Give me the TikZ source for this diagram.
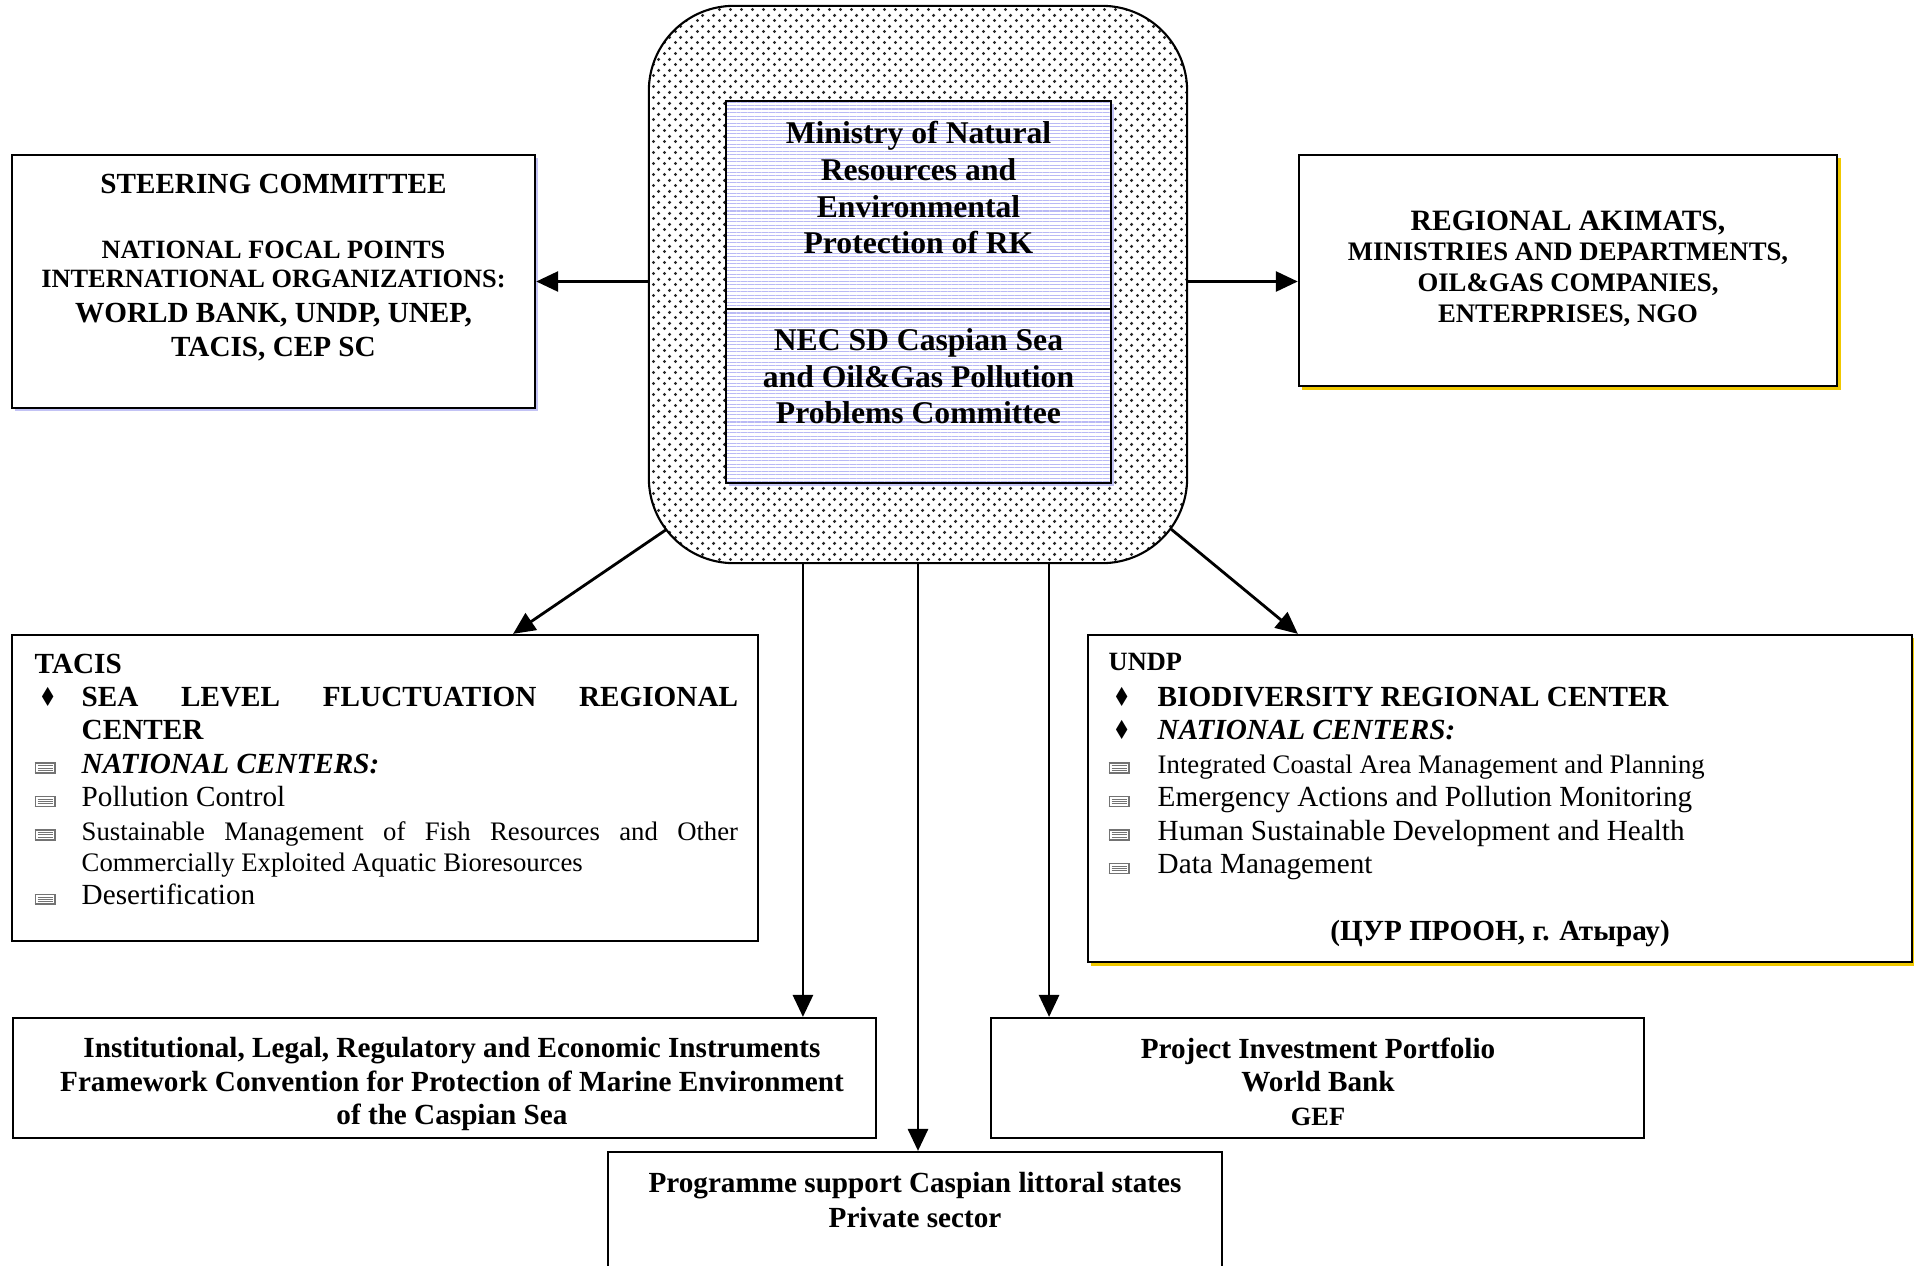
\documentclass[tikz,border=0pt]{standalone}
\usepackage{fontspec}
\setmainfont{Liberation Serif}
\newfontfamily\symf{DejaVu Sans}
\usepackage{graphicx}
\usetikzlibrary{arrows.meta,patterns,patterns.meta,shadows}

\definecolor{shgold}{RGB}{240,200,0}
\definecolor{shblue}{RGB}{195,195,245}
\definecolor{lineblue}{RGB}{185,185,245}

\pgfdeclarepatternformonly{fine dots}{\pgfqpoint{-.75pt}{-.75pt}}{\pgfqpoint{2.25pt}{2.25pt}}{\pgfqpoint{3pt}{3pt}}{%
  \pgfpathcircle{\pgfqpoint{0pt}{0pt}}{.5pt}%
  \pgfpathcircle{\pgfqpoint{1.5pt}{1.5pt}}{.5pt}%
  \pgfusepath{fill}}

\hyphenpenalty=10000
\exhyphenpenalty=10000

\newcommand{\diam}{\hspace*{0.4mm}\scalebox{0.7}[0.9]{\symf ♦}}
\newcommand{\lstmark}{\raisebox{0.25mm}{\textcolor{black!55}{\setlength{\fboxsep}{0.15mm}\setlength{\fboxrule}{0.15mm}%
  \fbox{\vbox{\hrule width 1.5mm height 0.1mm\vskip 0.12mm\hrule width 1.5mm height 0.1mm\vskip 0.12mm\hrule width 1.5mm height 0.1mm}}}}}

\begin{document}
\begin{tikzpicture}[x=0.01cm, y=-0.01cm,
    box/.style={draw, line width=0.6pt, fill=white, inner sep=0pt},
    gold/.style={drop shadow={shadow xshift=0.35mm, shadow yshift=-0.35mm, fill=shgold, opacity=1}},
    lav/.style={drop shadow={shadow xshift=0.3mm, shadow yshift=-0.3mm, fill=shblue, opacity=1}},
    txt/.style={inner sep=0pt, align=center, anchor=north, font=\bfseries\fontsize{8.3}{9.5}\selectfont},
    list/.style={inner sep=0pt, anchor=north west, font=\bfseries\fontsize{8.3}{9.5}\selectfont},
    arr/.style={line width=0.8pt, -{Triangle[length=2.2mm, width=2mm]}}]

    \useasboundingbox (0,0) rectangle (1914,1266);

    % Draw the central block
    \node[draw, line width=0.6pt, rounded corners=8.5mm, pattern=fine dots, pattern color=black!85,
          minimum width=5.38cm, minimum height=5.57cm] (outer) at (918,284.5) {};
    \node[draw, line width=0.6pt, inner sep=0pt, lav, preaction={fill=white},
          pattern={Lines[distance=1pt, line width=0.3pt]}, pattern color=lineblue,
          minimum width=3.85cm, minimum height=2.08cm] (min) at (918.5,205) {};
    \node[draw, line width=0.6pt, inner sep=0pt, lav, preaction={fill=white},
          pattern={Lines[distance=1pt, line width=0.3pt]}, pattern color=lineblue,
          minimum width=3.85cm, minimum height=1.74cm] (nec) at (918.5,396) {};

    \node[txt, font=\bfseries\fontsize{9}{10.4}\selectfont] (mintxt) at (918.5,121)
        {Ministry of Natural\\Resources and\\Environmental\\Protection of RK};
    \node[txt, font=\bfseries\fontsize{9}{10.4}\selectfont] (nectxt) at (918.5,328)
        {NEC SD Caspian Sea\\and Oil\&Gas Pollution\\Problems Committee};

    % Side and lower boxes
    \node[box, lav, minimum width=5.23cm, minimum height=2.53cm] (steer) at (273.5,281.5) {};
    \node[box, gold, minimum width=5.38cm, minimum height=2.31cm] (reg) at (1568,270.5) {};
    \node[box, minimum width=7.46cm, minimum height=3.06cm] (tacis) at (385,788) {};
    \node[box, gold, minimum width=8.24cm, minimum height=3.27cm] (undp) at (1500,798.5) {};
    \node[box, minimum width=8.63cm, minimum height=1.2cm] (inst) at (444.5,1078) {};
    \node[box, minimum width=6.53cm, minimum height=1.2cm] (proj) at (1317.5,1078) {};
    \node[box, minimum width=6.14cm, minimum height=1.4cm] (prog) at (915,1222) {};

    % Texts of the boxes
    \node[txt] (st1) at (273.5,173) {STEERING COMMITTEE};
    \node[txt, font=\bfseries\fontsize{7.5}{8.25}\selectfont] (st2) at (273.5,240)
        {NATIONAL FOCAL POINTS\\INTERNATIONAL ORGANIZATIONS:};
    \node[txt, font=\bfseries\fontsize{8.3}{9.7}\selectfont] (st3) at (273.5,302.5)
        {WORLD BANK, UNDP, UNEP,\\TACIS, CEP SC};

    \node[txt, font=\bfseries\fontsize{8.4}{9.5}\selectfont] (rg1) at (1568,210) {REGIONAL AKIMATS,};
    \node[txt, font=\bfseries\fontsize{7.6}{8.8}\selectfont] (rg2) at (1568,242.5)
        {MINISTRIES AND DEPARTMENTS,\\OIL\&GAS COMPANIES,\\ENTERPRISES, NGO};

    \node[list] (tacistxt) at (34,649) {%
        \begin{tabular}{@{}p{4.7mm}@{}p{65.6mm}@{}}
            \multicolumn{2}{@{}l@{}}{TACIS}\\
            \diam & SEA LEVEL FLUCTUATION REGIONAL CENTER\\
            \lstmark & \textit{NATIONAL CENTERS:}\\
            \lstmark & \mdseries Pollution Control\\
            \lstmark & \mdseries\fontsize{7.6}{8.8}\selectfont Sustainable Management of Fish Resources and Other Commercially Exploited Aquatic Bioresources\\
            \lstmark & \mdseries Desertification
        \end{tabular}};

    \node[list] (undptxt) at (1108,646) {%
        \begin{tabular}{@{}p{4.9mm}@{}p{70mm}@{}}
            \multicolumn{2}{@{}l@{}}{\fontsize{7.5}{9.5}\selectfont UNDP}\\[0.3mm]
            \diam & BIODIVERSITY REGIONAL CENTER\\
            \diam & \textit{NATIONAL CENTERS:}\\
            \lstmark & \mdseries\fontsize{7.6}{9.5}\selectfont Integrated Coastal Area Management and Planning\\
            \lstmark & \mdseries Emergency Actions and Pollution Monitoring\\
            \lstmark & \mdseries Human Sustainable Development and Health\\
            \lstmark & \mdseries Data Management
        \end{tabular}};
    \node[txt] (atyrau) at (1500,920) {(ЦУР ПРООН, г. Атырау)};

    \node[txt] (insttxt) at (452,1037)
        {Institutional, Legal, Regulatory and Economic Instruments\\Framework Convention for Protection of Marine Environment\\of the Caspian Sea};
    \node[txt] (projtxt) at (1318,1037)
        {Project Investment Portfolio\\World Bank\\{\fontsize{7.5}{9}\selectfont GEF}};
    \node[txt, font=\bfseries\fontsize{8.3}{9.7}\selectfont] (progtxt) at (915,1172)
        {Programme support Caspian littoral states\\Private sector};

    % Arrows out of the central block
    \draw[arr] (steer.east -| outer.west) -- (steer.east);
    \draw[arr] (steer.east -| outer.east) -- (steer.east -| reg.west);

    \coordinate (dl) at ([shift={(19,-35)}]outer.south west);
    \coordinate (dr) at ([shift={(-17,-35)}]outer.south east);
    \draw[arr] (dl) -- ([xshift=1.28cm]tacis.north);
    \draw[arr] (dr) -- ([xshift=-2.02cm]undp.north);

    \coordinate (vl) at ([xshift=-1.15cm]outer.south);
    \coordinate (vr) at ([xshift=1.31cm]outer.south);
    \draw[arr] (vl) -- (vl |- inst.north);
    \draw[arr] (outer.south) -- (outer.south |- prog.north);
    \draw[arr] (vr) -- (vr |- proj.north);
\end{tikzpicture}
\end{document}
